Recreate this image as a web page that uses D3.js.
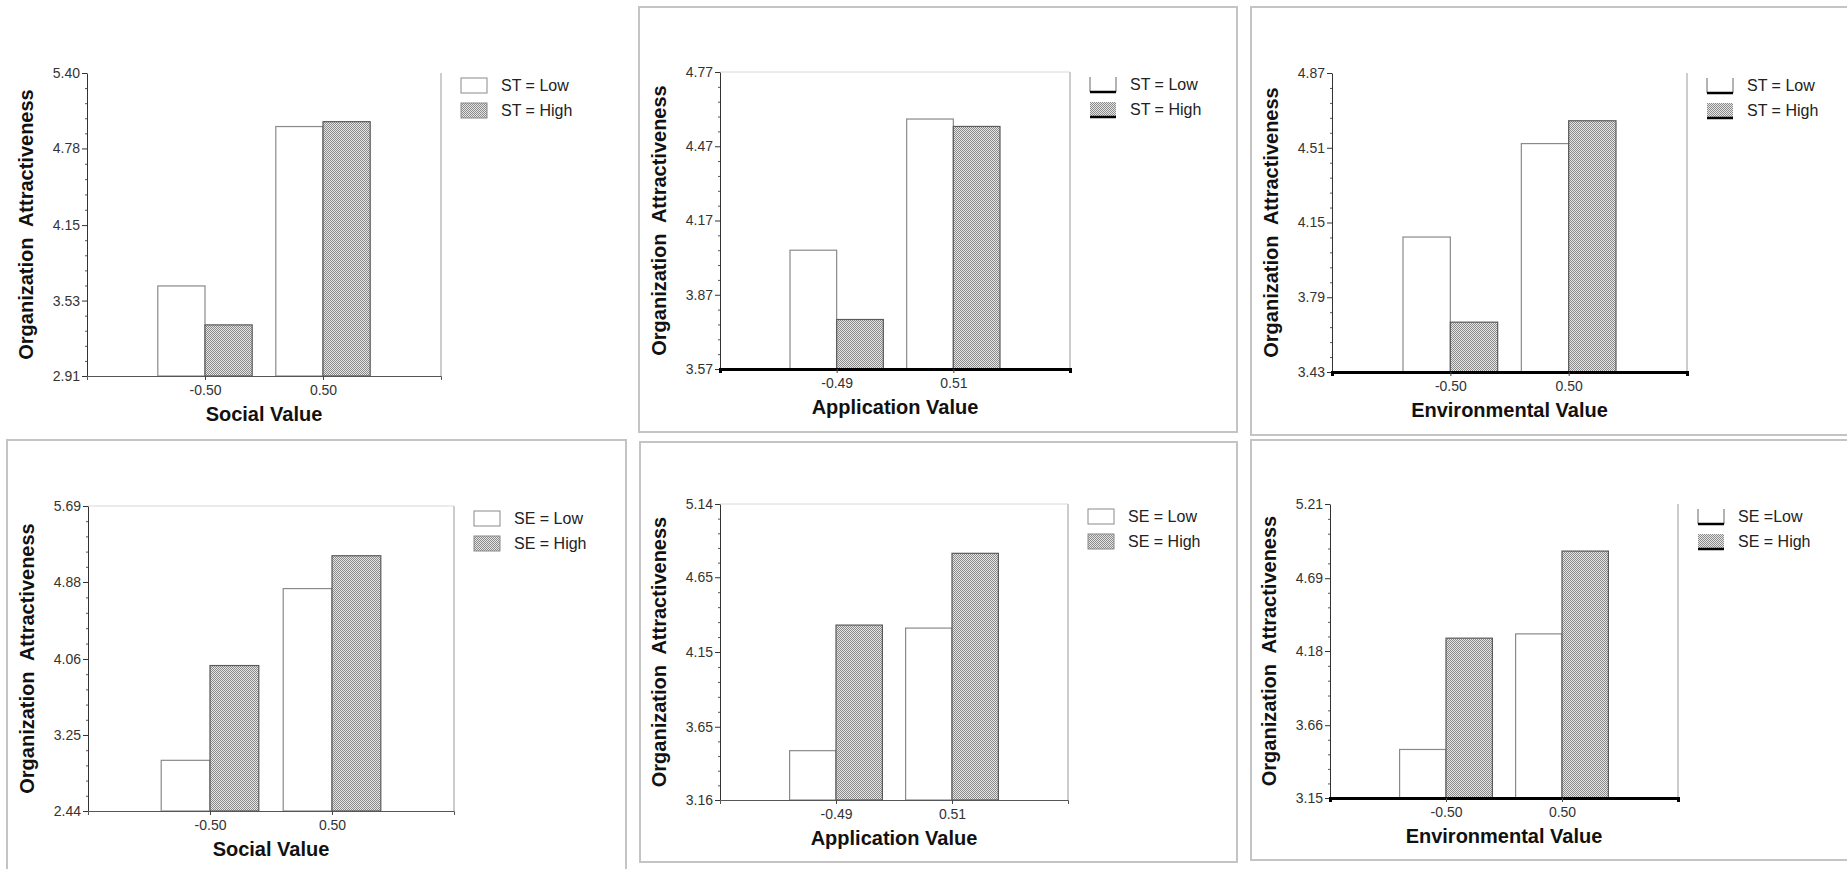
<!DOCTYPE html>
<html>
<head>
<meta charset="utf-8">
<script src="https://cdn.jsdelivr.net/npm/d3@7"></script>
<style>
  body { margin: 0; background: #fff; }
  text { font-family: "Liberation Sans", Arial, sans-serif; }
</style>
</head>
<body>
<script>
// Category labels on the x axis
const socialCats = ["-0.50", "0.50"];
const applicationCats = ["-0.49", "0.51"];
const environmentalCats = ["-0.50", "0.50"];

// Bar values
const stSocialLow = [3.65, 4.96];
const stSocialHigh = [3.33, 5.00];
const stApplicationLow = [4.05, 4.58];
const stApplicationHigh = [3.77, 4.55];
const stEnvironmentalLow = [4.08, 4.53];
const stEnvironmentalHigh = [3.67, 4.64];
const seSocialLow = [2.98, 4.81];
const seSocialHigh = [3.99, 5.16];
const seApplicationLow = [3.49, 4.31];
const seApplicationHigh = [4.33, 4.81];
const seEnvironmentalLow = [3.49, 4.30];
const seEnvironmentalHigh = [4.27, 4.88];

// Y tick labels
const stSocialTicks = [2.91, 3.53, 4.15, 4.78, 5.40];
const stApplicationTicks = [3.57, 3.87, 4.17, 4.47, 4.77];
const stEnvironmentalTicks = [3.43, 3.79, 4.15, 4.51, 4.87];
const seSocialTicks = [2.44, 3.25, 4.06, 4.88, 5.69];
const seApplicationTicks = [3.16, 3.65, 4.15, 4.65, 5.14];
const seEnvironmentalTicks = [3.15, 3.66, 4.18, 4.69, 5.21];

// Legend labels and axis titles
const stLegend = ["ST = Low", "ST = High"];
const seLegend = ["SE = Low", "SE = High"];
const seLegendEnv = ["SE =Low", "SE = High"];
const yTitle = "Organization  Attractiveness";

const width = 1847;
const height = 869;

const svg = d3.select("body")
    .append("svg")
    .attr("width", width)
    .attr("height", height);

// stipple fill used for the "High" bars
const defs = svg.append("defs");
const pat = defs.append("pattern")
    .attr("id", "stipple")
    .attr("patternUnits", "userSpaceOnUse")
    .attr("width", 2)
    .attr("height", 2);
pat.append("rect").attr("width", 2).attr("height", 2).attr("fill", "#e6e6e6");
pat.append("rect").attr("width", 1).attr("height", 1).attr("fill", "#8a8a8a");
pat.append("rect").attr("x", 1).attr("y", 1).attr("width", 1).attr("height", 1).attr("fill", "#8a8a8a");

// panel frames (light grey boxes around the screenshots)
const frames = [
    { x1: 639, y1: 7, x2: 1237, y2: 432 },
    { x1: 1251, y1: 7, x2: 1852, y2: 435 },
    { x1: 7, y1: 440, x2: 626, y2: 875 },
    { x1: 640, y1: 442, x2: 1237, y2: 862 },
    { x1: 1251, y1: 440, x2: 1852, y2: 860 }
];
svg.selectAll(".frame")
    .data(frames)
    .join("rect")
    .attr("class", "frame")
    .attr("x", d => d.x1)
    .attr("y", d => d.y1)
    .attr("width", d => d.x2 - d.x1)
    .attr("height", d => d.y2 - d.y1)
    .attr("fill", "none")
    .attr("stroke", "#c4c4c4")
    .attr("stroke-width", 2);

// the six panels
const panels = [
    { cats: socialCats, low: stSocialLow, high: stSocialHigh, ticks: stSocialTicks, legend: stLegend,
      xTitle: "Social Value", left: 87, top: 73, right: 441, bottom: 376, thick: false, topLine: false },
    { cats: applicationCats, low: stApplicationLow, high: stApplicationHigh, ticks: stApplicationTicks, legend: stLegend,
      xTitle: "Application Value", left: 720, top: 72, right: 1070, bottom: 369, thick: true, topLine: true },
    { cats: environmentalCats, low: stEnvironmentalLow, high: stEnvironmentalHigh, ticks: stEnvironmentalTicks, legend: stLegend,
      xTitle: "Environmental Value", left: 1332, top: 73, right: 1687, bottom: 372, thick: true, topLine: false },
    { cats: socialCats, low: seSocialLow, high: seSocialHigh, ticks: seSocialTicks, legend: seLegend,
      xTitle: "Social Value", left: 88, top: 506, right: 454, bottom: 811, thick: false, topLine: true },
    { cats: applicationCats, low: seApplicationLow, high: seApplicationHigh, ticks: seApplicationTicks, legend: seLegend,
      xTitle: "Application Value", left: 720, top: 504, right: 1068, bottom: 800, thick: false, topLine: true },
    { cats: environmentalCats, low: seEnvironmentalLow, high: seEnvironmentalHigh, ticks: seEnvironmentalTicks, legend: seLegendEnv,
      xTitle: "Environmental Value", left: 1330, top: 504, right: 1678, bottom: 798, thick: true, topLine: false }
];

panels.forEach(drawPanel);

function drawPanel(p) {
    const g = svg.append("g");

    const x = d3.scalePoint()
        .domain(p.cats)
        .range([p.left, p.right])
        .padding(1);

    const y = d3.scaleLinear()
        .domain([p.ticks[0], p.ticks[p.ticks.length - 1]])
        .range([p.bottom, p.top]);

    const bw = x.step() * 0.4;

    // plot area right edge and (sometimes) top edge
    g.append("line")
        .attr("x1", p.right).attr("x2", p.right)
        .attr("y1", p.top).attr("y2", p.bottom)
        .attr("stroke", "#9a9a9a");
    if (p.topLine) {
        g.append("line")
            .attr("x1", p.left).attr("x2", p.right)
            .attr("y1", p.top).attr("y2", p.top)
            .attr("stroke", "#d8d8d8");
    }

    // Low bars (white) and High bars (stipple)
    g.selectAll(".low")
        .data(p.cats)
        .join("rect")
        .attr("class", "low")
        .attr("x", d => x(d) - bw)
        .attr("y", (d, i) => y(p.low[i]))
        .attr("width", bw)
        .attr("height", (d, i) => y(p.ticks[0]) - y(p.low[i]))
        .attr("fill", "#fff")
        .attr("stroke", "#8a8a8a")
        .attr("stroke-width", 1.2);

    g.selectAll(".high")
        .data(p.cats)
        .join("rect")
        .attr("class", "high")
        .attr("x", d => x(d))
        .attr("y", (d, i) => y(p.high[i]))
        .attr("width", bw)
        .attr("height", (d, i) => y(p.ticks[0]) - y(p.high[i]))
        .attr("fill", "url(#stipple)")
        .attr("stroke", "#5a5a5a")
        .attr("stroke-width", 1.2);

    // minor ticks: four between each pair of labelled ticks
    const minor = [];
    for (let i = 0; i < p.ticks.length - 1; i++) {
        for (let k = 1; k < 5; k++) {
            minor.push(p.ticks[i] + k * (p.ticks[i + 1] - p.ticks[i]) / 5);
        }
    }
    g.append("g")
        .attr("transform", `translate(${p.left},0)`)
        .call(d3.axisLeft(y).tickValues(minor).tickSize(2).tickSizeOuter(0).tickFormat(""))
        .call(a => a.select(".domain").remove())
        .call(a => a.selectAll("line").attr("stroke", "#555"));

    // y axis
    g.append("g")
        .attr("transform", `translate(${p.left},0)`)
        .call(d3.axisLeft(y).tickValues(p.ticks).tickFormat(d3.format(".2f")).tickSize(5).tickSizeOuter(0).tickPadding(2))
        .call(a => a.select(".domain").attr("stroke", "#333"))
        .call(a => a.selectAll("line").attr("stroke", "#333"))
        .call(a => a.selectAll("text")
            .attr("fill", "#333")
            .style("font-size", "14px")
            .style("font-family", "'Liberation Sans', Arial, sans-serif"));

    // x axis
    g.append("g")
        .attr("transform", `translate(0,${p.bottom})`)
        .call(d3.axisBottom(x).tickSize(4).tickSizeOuter(4).tickPadding(5))
        .call(a => a.select(".domain")
            .attr("stroke", p.thick ? "#000" : "#555")
            .attr("stroke-width", p.thick ? 3 : 1))
        .call(a => a.selectAll("line").attr("stroke", "#444"))
        .call(a => a.selectAll("text")
            .attr("fill", "#333")
            .style("font-size", "14px")
            .style("font-family", "'Liberation Sans', Arial, sans-serif"));

    // axis titles
    g.append("text")
        .attr("x", (p.left + p.right) / 2)
        .attr("y", p.bottom + 45)
        .attr("text-anchor", "middle")
        .style("font-size", "20px")
        .style("font-weight", "bold")
        .attr("fill", "#111")
        .text(p.xTitle);

    g.append("text")
        .attr("transform", `translate(${p.left - 54},${(p.top + p.bottom) / 2}) rotate(-90)`)
        .attr("text-anchor", "middle")
        .style("font-size", "20px")
        .style("font-weight", "bold")
        .style("white-space", "pre")
        .attr("fill", "#111")
        .text(yTitle);

    // legend
    const lx = p.right + 20;
    const boxW = 26;
    const boxH = 15;
    [0, 1].forEach(i => {
        const by = p.top + 5 + i * 25;
        if (p.thick) {
            // bracket style boxes with a heavy base, like the heavy x axis
            g.append("rect")
                .attr("x", lx).attr("y", by)
                .attr("width", boxW).attr("height", boxH)
                .attr("fill", i === 0 ? "#fff" : "url(#stipple)")
                .attr("stroke", "none");
            if (i === 0) {
                g.append("path")
                    .attr("d", `M${lx},${by} V${by + boxH} M${lx + boxW},${by} V${by + boxH}`)
                    .attr("stroke", "#666")
                    .attr("fill", "none");
            }
            g.append("line")
                .attr("x1", lx).attr("x2", lx + boxW)
                .attr("y1", by + boxH).attr("y2", by + boxH)
                .attr("stroke", "#000")
                .attr("stroke-width", 2.5);
        } else {
            g.append("rect")
                .attr("x", lx).attr("y", by)
                .attr("width", boxW).attr("height", boxH)
                .attr("fill", i === 0 ? "#fff" : "url(#stipple)")
                .attr("stroke", "#8a8a8a");
        }
        g.append("text")
            .attr("x", lx + 40)
            .attr("y", by + boxH / 2)
            .attr("dy", "0.35em")
            .style("font-size", "16px")
            .style("white-space", "pre")
            .attr("fill", "#222")
            .text(p.legend[i]);
    });
}
</script>
</body>
</html>
